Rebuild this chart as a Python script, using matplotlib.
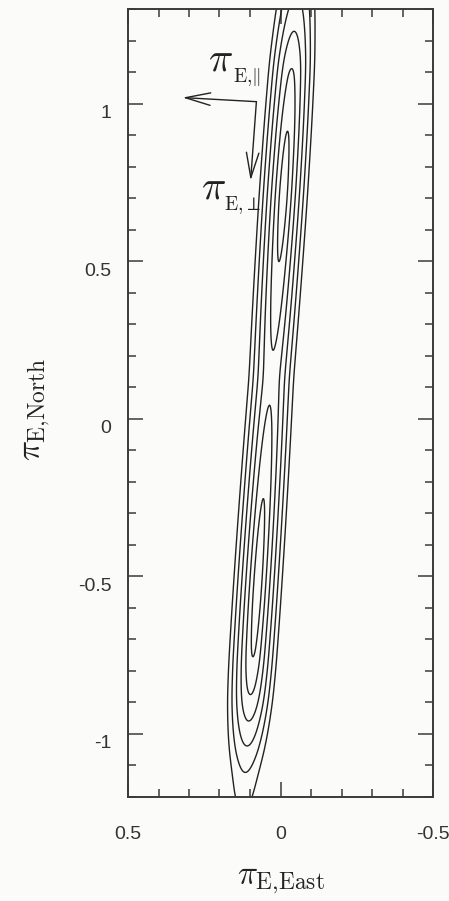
import numpy as np
import matplotlib
matplotlib.use('Agg')
from matplotlib import pyplot as plt
from matplotlib.ticker import FixedLocator, MultipleLocator
import matplotlib.transforms as mtransforms

plt.rcParams['mathtext.fontset'] = 'cm'
plt.rcParams['font.family'] = ['Liberation Sans', 'DejaVu Sans']

prof_y = [-1.35, -1.2, -1.117, -1.038, -0.959, -0.879, -0.762, -0.53, -0.254,
          0.041, 0.13, 0.22, 0.50, 0.71, 0.914, 1.117, 1.229, 1.40]
prof_sigma = [6.7, 5.65, 5.0, 4.0, 3.0, 2.0, 1.0, 0.0, 1.0,
              2.0, 2.25, 2.0, 1.0, 0.15, 1.0, 2.0, 3.0, 4.5]

# ridge of the valley: pi_E,East = band_x0 + band_slope * pi_E,North
band_x0 = 0.039
band_slope = -0.068
band_width = 0.0132

sigma_levels = [1, 2, 3, 4, 5, 6]

xlim = (0.5, -0.5)
ylim = (-1.2, 1.3)
xticks = [0.5, 0, -0.5]
xticklabels = ['0.5', '0', '-0.5']
yticks = [1, 0.5, 0, -0.5, -1]
yticklabels = ['1', '0.5', '0', '-0.5', '-1']

# perpendicular / parallel arrows
arrow_corner = (0.079, 1.006)
arrow_par_tip = (0.321, 1.019)
arrow_perp_tip = (0.098, 0.756)

ink = '#222222'
axcol = '#3a3a3a'

fig = plt.figure(figsize=(4.49, 9.01), dpi=100, facecolor='#fbfbf9')
ax = fig.add_axes([128 / 449, 104 / 901, 305 / 449, 788 / 901])
ax.set_facecolor('#fbfbf9')

gx = np.linspace(0.5, -0.5, 1400)
gy = np.linspace(-1.3, 1.4, 1000)
X, Y = np.meshgrid(gx, gy)
h = np.interp(gy, prof_y, prof_sigma)
kern = np.ones(31) / 31
h = np.convolve(np.pad(h, 15, mode='edge'), kern, mode='valid')[:, None]
v = (X - (band_x0 + band_slope * Y)) / band_width
chi2 = v ** 2 + h ** 2
ax.contour(X, Y, chi2, levels=[s ** 2 for s in sigma_levels],
           colors=ink, linewidths=1.0)

ax.set_xlim(*xlim)
ax.set_ylim(*ylim)
ax.xaxis.set_major_locator(FixedLocator(xticks))
ax.set_xticklabels(xticklabels)
ax.yaxis.set_major_locator(FixedLocator(yticks))
ax.set_yticklabels(yticklabels)
ax.xaxis.set_minor_locator(MultipleLocator(0.1))
ax.yaxis.set_minor_locator(MultipleLocator(0.1))
ax.tick_params(which='both', direction='in', top=True, right=True,
               color=axcol, labelcolor='#333333', labelsize=14)
ax.tick_params(which='major', length=11, width=1.1)
ax.tick_params(which='minor', length=5.8, width=1.1)
ax.tick_params(axis='x', pad=21)
ax.tick_params(axis='y', pad=12)
for sp in ax.spines.values():
    sp.set_color(axcol)
    sp.set_linewidth(1.4)

shift = mtransforms.ScaledTranslation(0, -8 / 100, fig.dpi_scale_trans)
for lab in ax.get_yticklabels():
    lab.set_transform(lab.get_transform() + shift)

astyle = '->,head_length=1.8,head_width=0.45'
for tip in (arrow_par_tip, arrow_perp_tip):
    ax.annotate('', xy=tip, xytext=arrow_corner,
                arrowprops=dict(arrowstyle=astyle, color=ink, lw=1.0,
                                shrinkA=0, shrinkB=0))

ax.text(0.239, 1.105, r'$\pi$', fontsize=29, color=ink, ha='left', va='baseline')
ax.text(0.157, 1.067, r'$\rm E{,}\|$', fontsize=14, color=ink, ha='left', va='baseline')
ax.text(0.262, 0.698, r'$\pi$', fontsize=29, color=ink, ha='left', va='baseline')
ax.text(0.184, 0.663, r'$\rm E{,}{\perp}$', fontsize=14, color=ink, ha='left', va='baseline')

fig.text(281 / 449, 1 - 881 / 901, r'$\pi_{\rm E{,}East}$', fontsize=24,
         color=ink, ha='center', va='center')
fig.text(37 / 449, 1 - 409 / 901, r'$\pi_{\rm E{,}North}$', fontsize=24,
         color=ink, ha='center', va='center', rotation=90)

fig.savefig('out.png', dpi=100, facecolor=fig.get_facecolor())
